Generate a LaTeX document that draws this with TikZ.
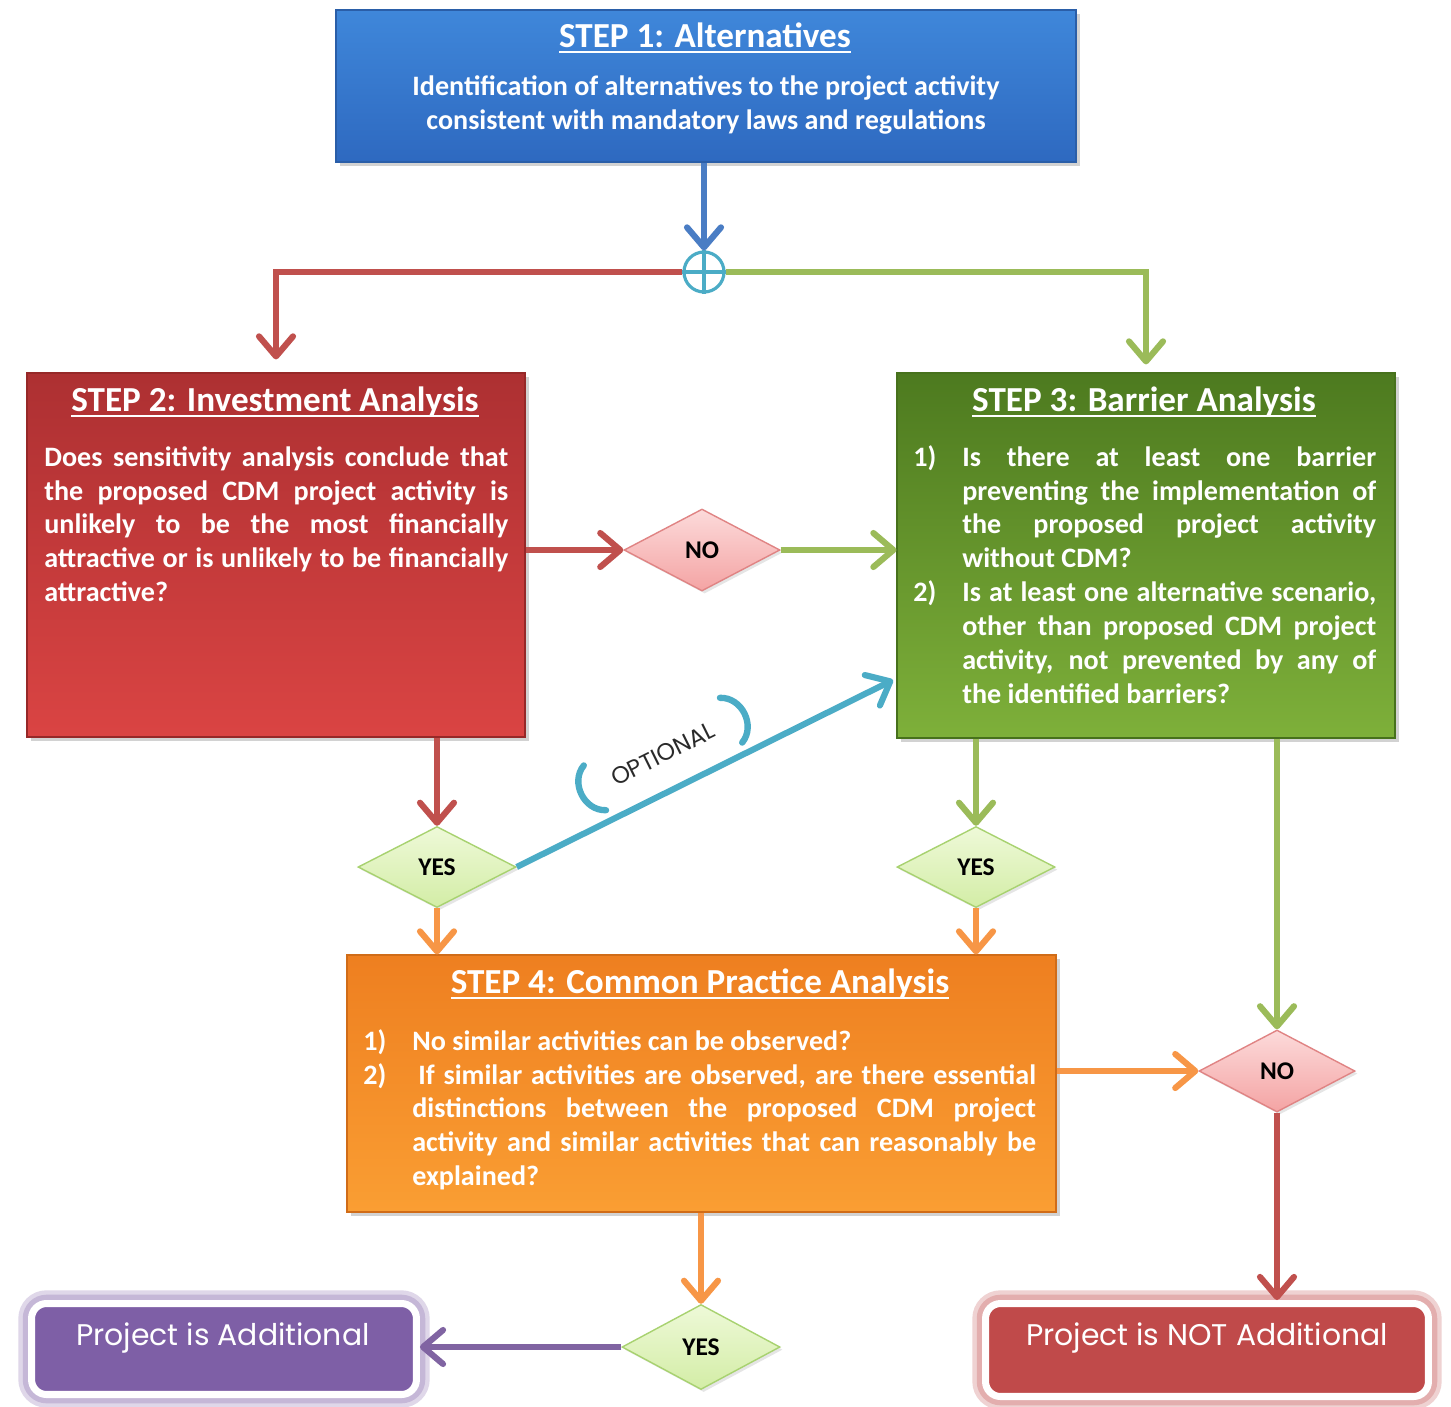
\documentclass[tikz,border=0pt]{standalone}
\usepackage{fontspec}
\setmainfont{Carlito}
\newfontfamily\gothic{Poppins}
\usetikzlibrary{arrows.meta,shapes.geometric,shadows,calc}

\definecolor{s1top}{HTML}{3F87DA}\definecolor{s1bot}{HTML}{2E69C0}\definecolor{s1bd}{HTML}{2A5EA8}
\definecolor{s2top}{HTML}{AD3032}\definecolor{s2bot}{HTML}{DA4443}\definecolor{s2bd}{HTML}{962828}
\definecolor{s3top}{HTML}{4D7A1F}\definecolor{s3bot}{HTML}{7EB03A}\definecolor{s3bd}{HTML}{47711C}
\definecolor{s4top}{HTML}{EE7F20}\definecolor{s4bot}{HTML}{FA9E33}\definecolor{s4bd}{HTML}{D06C18}
\definecolor{cblue}{HTML}{4A7DC4}
\definecolor{cred}{HTML}{C0504D}
\definecolor{cgreen}{HTML}{9BBB59}
\definecolor{corange}{HTML}{F79646}
\definecolor{cpurple}{HTML}{8064A2}
\definecolor{cteal}{HTML}{4BACC6}
\definecolor{notop}{HTML}{FCDADA}\definecolor{nobot}{HTML}{F4A4A4}\definecolor{nobd}{HTML}{E08484}
\definecolor{yestop}{HTML}{EEF9D8}\definecolor{yesbot}{HTML}{D3EDA6}\definecolor{yesbd}{HTML}{A8D270}
\definecolor{addfill}{HTML}{7E5FA6}
\definecolor{naddfill}{HTML}{C04A4A}
\definecolor{opttext}{HTML}{2A2A2A}

\newcommand\myul[1]{\setbox0\hbox{#1}\rlap{\rule[-3.2pt]{\wd0}{1.1pt}}\box0}
\newcommand\hangitem[1]{\noindent\hangindent=0.98cm\hangafter=1\makebox[0.98cm][l]{\strut #1}}

\tikzset{
  stepbox/.style={rectangle, line width=0.7pt, inner sep=0pt,
    drop shadow={shadow xshift=2.5pt, shadow yshift=-2.5pt, opacity=0.35}},
  steptitle/.style={font=\bfseries\fontsize{20}{24}\selectfont, text=white, inner sep=0pt},
  stepbody/.style={font=\bfseries\fontsize{16}{19.3}\selectfont, text=white, inner sep=0pt},
  nodiam/.style={diamond, draw=nobd, line width=0.8pt, top color=notop, bottom color=nobot,
    minimum width=3.12cm, minimum height=1.64cm, inner sep=0pt,
    font=\bfseries\fontsize{14.5}{15}\selectfont, text=black,
    drop shadow={shadow xshift=1.5pt, shadow yshift=-1.5pt, opacity=0.2}},
  yesdiam/.style={diamond, draw=yesbd, line width=0.8pt, top color=yestop, bottom color=yesbot,
    minimum width=3.16cm, minimum height=1.62cm, inner sep=0pt,
    font=\bfseries\fontsize{14.5}{15}\selectfont, text=black,
    drop shadow={shadow xshift=1.5pt, shadow yshift=-1.5pt, opacity=0.2}},
  conn/.style={draw=#1, line width=3.5pt,
    -{Straight Barb[length=0.4cm, width=0.68cm, round]}},
  finalbox/.style={rectangle, rounded corners=0.3cm, draw=white, line width=4pt, fill=#1,
    preaction={draw=#1!25, line width=15pt},
    preaction={draw=#1!45, line width=10pt}},
  finaltext/.style={font=\gothic\fontsize{17}{19}\selectfont, text=white, inner sep=0pt},
}

\begin{document}
\begin{tikzpicture}[x=0.02cm, y=-0.02cm]
\useasboundingbox[fill=white] (0,0) rectangle (1451,1407);

% ---------- STEP 1 ----------
\node[stepbox, top color=s1top, bottom color=s1bot, draw=s1bd,
      minimum width=14.8cm, minimum height=3.04cm] (s1) at (706,86) {};
\node[steptitle, anchor=base] (s1t) at (705,47) {\myul{STEP 1: Alternatives}};
\node[stepbody, anchor=north, align=center] (s1b) at (706,71)
  {\strut Identification of alternatives to the project activity\\
   consistent with mandatory laws and regulations};

% ---------- junction ----------
\node[circle, draw=cteal, line width=1.8pt, minimum size=0.8cm, inner sep=0pt, fill=white] (jn) at (704,272) {};
\draw[cteal, line width=1.8pt] (jn.north) -- (jn.south) (jn.west) -- (jn.east);

% ---------- STEP 2 ----------
\node[stepbox, top color=s2top, bottom color=s2bot, draw=s2bd,
      minimum width=9.96cm, minimum height=7.28cm] (s2) at (276,555) {};
\node[steptitle, anchor=base] (s2t) at (275,411) {\myul{STEP 2: Investment Analysis}};
\node[stepbody, anchor=north west, text width=9.28cm, align=justify] (s2b) at (44,442)
  {\strut Does sensitivity analysis conclude that\linebreak
   the proposed CDM project activity is\linebreak
   unlikely to be the most financially\linebreak
   attractive or is unlikely to be financially\linebreak
   attractive?};

% ---------- STEP 3 ----------
\node[stepbox, top color=s3top, bottom color=s3bot, draw=s3bd,
      minimum width=9.96cm, minimum height=7.3cm] (s3) at (1146,555.5) {};
\node[steptitle, anchor=base] (s3t) at (1144,411) {\myul{STEP 3: Barrier Analysis}};
\node[stepbody, anchor=north west, text width=9.26cm, align=justify] (s3b) at (913,442)
  {\hangitem{1)}Is there at least one barrier\linebreak
   preventing the implementation of\linebreak
   the proposed project activity\linebreak
   without CDM?\par
   \hangitem{2)}Is at least one alternative scenario,\linebreak
   other than proposed CDM project\linebreak
   activity, not prevented by any of\linebreak
   the identified barriers?\par};

% ---------- STEP 4 ----------
\node[stepbox, top color=s4top, bottom color=s4bot, draw=s4bd,
      minimum width=14.18cm, minimum height=5.14cm] (s4) at (701.5,1083.5) {};
\node[steptitle, anchor=base] (s4t) at (700,993) {\myul{STEP 4: Common Practice Analysis}};
\node[stepbody, anchor=north west, text width=13.46cm, align=justify] (s4b) at (363,1026)
  {\hangitem{1)}No similar activities can be observed?\par
   \hangitem{2)}\hspace{0.12cm}If similar activities are observed, are there essential\linebreak
   distinctions between the proposed CDM project\linebreak
   activity and similar activities that can reasonably be\linebreak
   explained?\par};

% ---------- decisions ----------
\node[nodiam] (no1) at (702,550) {NO};
\node[yesdiam] (yes1) at (437,867) {YES};
\node[yesdiam] (yes2) at (976,867) {YES};
\node[nodiam] (no2) at (1277,1071) {NO};
\node[yesdiam, minimum height=1.7cm] (yes3) at (701,1347) {YES};

% ---------- results ----------
\node[finalbox=addfill, minimum width=7.7cm, minimum height=1.82cm] (add) at (224,1349) {};
\node[finaltext] (addt) at (223,1338) {Project is Additional};
\node[finalbox=naddfill, minimum width=8.86cm, minimum height=1.86cm] (nadd) at (1207,1350) {};
\node[finaltext] (naddt) at (1207,1338) {Project is NOT Additional};

% ---------- connectors ----------
\draw[conn=cblue] (jn |- s1.south) -- (jn.north);
\draw[conn=cred, shorten >=0.26cm] (jn.west) -| (s2.north);
\draw[conn=cgreen, shorten >=0.16cm] (jn.east) -| (s3.north);
\draw[conn=cred] (s2.east |- no1) -- (no1.west);
\draw[conn=cgreen] (no1.east) -- (no1 -| s3.west);
\draw[conn=cred] (yes1 |- s2.south) -- (yes1.north);
\draw[conn=cgreen] (yes2 |- s3.south) -- (yes2.north);
\draw[conn=cgreen] (no2 |- s3.south) -- (no2.north);
\draw[conn=corange] (yes1.south) -- (yes1 |- s4.north);
\draw[conn=corange] (yes2.south) -- (yes2 |- s4.north);
\draw[conn=corange] (s4.east |- no2) -- (no2.west);
\draw[conn=corange] (yes3 |- s4.south) -- (yes3.north);
\draw[conn=cred] (no2.south) -- (no2 |- nadd.north);
\draw[conn=cpurple] (yes3.west) -- (yes3 -| add.east);
\coordinate (optend) at (893,680);
\draw[conn=cteal] (yes1.east) -- (optend);

% ---------- OPTIONAL label ----------
\node[font=\gothic\fontsize{13.5}{14}\selectfont, text=opttext, rotate=26.4, inner sep=0pt] (opt) at (663,754) {OPTIONAL};
\begin{scope}[shift={(663,754)}, rotate=26.4]
  \draw[cteal, line width=3.6pt, line cap=round] (-76,-25) .. controls (-96,-16) and (-96,16) .. (-76,25);
  \draw[cteal, line width=3.6pt, line cap=round] (76,-25) .. controls (96,-16) and (96,16) .. (76,25);
\end{scope}
\end{tikzpicture}
\end{document}
